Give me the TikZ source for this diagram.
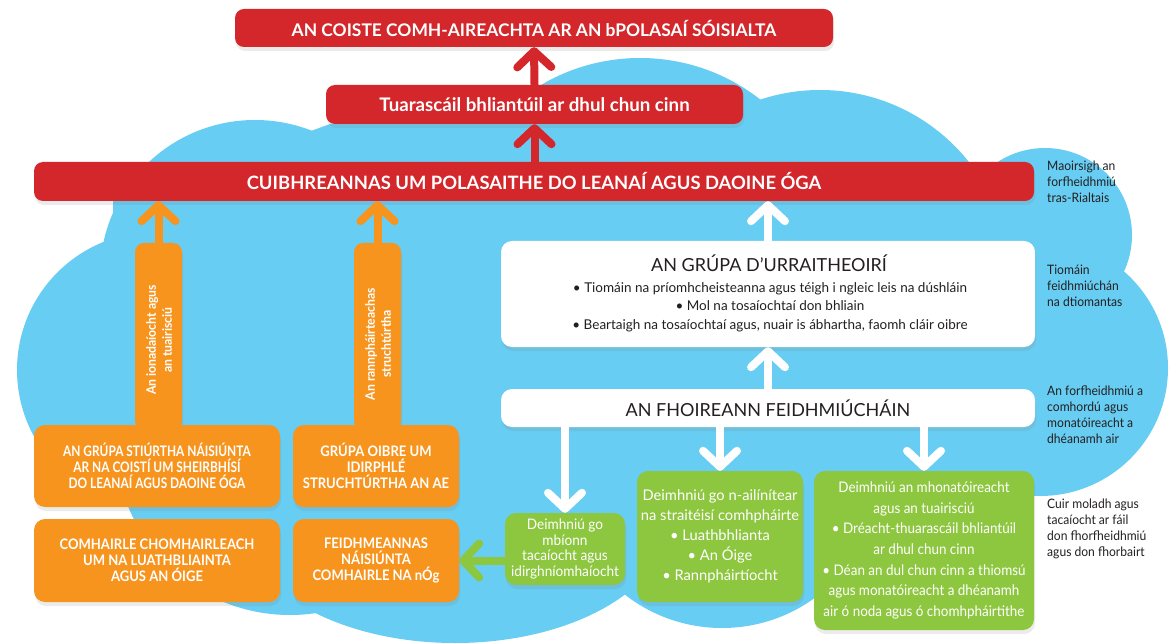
\documentclass[tikz,border=0pt]{standalone}
\usepackage{fontspec}
\setmainfont{Lato}
\newfontfamily\latoA{Lato}[FakeStretch=0.93]
\newfontfamily\latoD{Lato}[FakeStretch=0.94]
\newfontfamily\latoG{Lato}[FakeStretch=0.92]
\newfontfamily\latoO{Lato}[FakeStretch=0.82]
\newfontfamily\latoP{Lato}[FakeStretch=0.9]
\usetikzlibrary{arrows.meta,shadows}
\definecolor{cRed}{HTML}{D3272B}
\definecolor{cBlue}{HTML}{67CDF2}
\definecolor{cOrange}{HTML}{F7941E}
\definecolor{cGreen}{HTML}{8DC63F}
\definecolor{cText}{HTML}{231F20}
\tikzset{
  softshadow/.style={drop shadow={opacity=0.16, shadow xshift=1pt, shadow yshift=-4pt}},
  redbox/.style={fill=cRed, rounded corners=9pt, text=white, inner sep=0pt, softshadow},
  whitebox/.style={fill=white, rounded corners=11pt, inner sep=0pt, softshadow},
  orangebox/.style={fill=cOrange, rounded corners=11pt, inner sep=0pt, text=white, softshadow,
    align=center, font=\latoP\bfseries\fontsize{14.5}{16}\selectfont},
  tabbox/.style={fill=cOrange, rounded corners=9pt, inner sep=0pt, softshadow},
  tabtext/.style={text=white, inner sep=0pt, align=center, font=\latoD\bfseries\fontsize{13}{16}\selectfont},
  greenbox/.style={fill=cGreen, rounded corners=11pt, inner sep=0pt, text=white, softshadow, align=center},
  sidetext/.style={text=cText, inner sep=0pt, align=left, font=\latoA\fontsize{13}{16}\selectfont},
  darktext/.style={text=cText, inner sep=0pt, align=center},
  barb/.style={line width=8pt, -{Straight Barb[length=16pt, width=34pt, round]}},
  redarrow/.style={barb, draw=cRed},
  orangearrow/.style={barb, draw=cOrange},
  whitearrow/.style={barb, draw=white},
  greenarrow/.style={barb, draw=cGreen},
}
\begin{document}
\begin{tikzpicture}[x=1pt,y=-1pt]
\useasboundingbox (0,0) rectangle (1169,644);
% ---------- cloud ----------
\begin{scope}[cBlue]
\fill (640,253) circle[radius=195pt];
\fill (820,280) circle[radius=190pt];
\fill (1045,235) circle[radius=87pt];
\fill (1040,368) circle[radius=128pt];
\fill (255,275) circle[radius=155pt];
\fill (155,370) circle[radius=138pt];
\fill (290,440) circle[radius=175pt];
\fill (455,518) ellipse[x radius=215pt, y radius=125pt];
\fill (722,470) circle[radius=158pt];
\fill (890,430) circle[radius=150pt];
\fill (300,135) -- (330,124) -- (560,100) -- (760,110) -- (960,165) -- (1035,165)
      -- (1035,470) -- (113,470) -- (113,200) -- (150,162) -- cycle;
\end{scope}
% ---------- boxes ----------
\node[redbox, minimum width=598pt, minimum height=38pt, font=\bfseries\fontsize{17.4}{20}\selectfont] (r1) at (534,28)
  {AN COISTE COMH-AIREACHTA AR AN bPOLASAÍ SÓISIALTA};
\node[redbox, minimum width=417pt, minimum height=39pt, font=\bfseries\fontsize{18.7}{20}\selectfont] (r2) at (534.5,104.5)
  {Tuarascáil bhliantúil ar dhul chun cinn};
\node[redbox, minimum width=1000pt, minimum height=39pt, font=\bfseries\fontsize{18.4}{20}\selectfont] (r3) at (534,181.5)
  {CUIBHREANNAS UM POLASAITHE DO LEANAÍ AGUS DAOINE ÓGA};

\node[tabbox, minimum width=47pt, minimum height=187pt] (t1) at (158.5,336.5) {};
\node[tabbox, minimum width=47pt, minimum height=187pt] (t2) at (377.5,336.5) {};
\node[tabtext, rotate=90] (t1txt) at (159,340) {An ionadaíocht agus\\an tuairisciú};
\node[tabtext, rotate=90] (t2txt) at (378,344) {An rannpháirteachas\\struchtúrtha};

\node[orangebox, minimum width=246pt, minimum height=82pt, font=\latoO\bfseries\fontsize{14.5}{16}\selectfont] (o1) at (157,466)
  {AN GRÚPA STIÚRTHA NÁISIÚNTA\\AR NA COISTÍ UM SHEIRBHÍSÍ\\DO LEANAÍ AGUS DAOINE ÓGA};
\node[orangebox, minimum width=166pt, minimum height=82pt] (o2) at (376,466)
  {GRÚPA OIBRE UM\\IDIRPHLÉ\\STRUCHTÚRTHA AN AE};
\node[orangebox, minimum width=246pt, minimum height=83pt] (o3) at (157,560.5)
  {COMHAIRLE CHOMHAIRLEACH\\UM NA LUATHBLIAINTA\\AGUS AN ÓIGE};
\node[orangebox, minimum width=166pt, minimum height=83pt] (o4) at (376,560.5)
  {FEIDHMEANNAS\\NÁISIÚNTA\\COMHAIRLE NA nÓg};

\node[whitebox, minimum width=534pt, minimum height=106pt] (w1) at (768,294) {};
\node[darktext, font=\fontsize{18}{20}\selectfont] (w1title) at (769,263) {AN GRÚPA D’URRAITHEOIRÍ};
\node[darktext, font=\fontsize{13.5}{18.5}\selectfont] (w1list) at (770,307)
  {• Tiomáin na príomhcheisteanna agus téigh i ngleic leis na dúshláin\\
   • Mol na tosaíochtaí don bhliain\\
   • Beartaigh na tosaíochtaí agus, nuair is ábhartha, faomh cláir oibre};
\node[whitebox, minimum width=534pt, minimum height=38pt, font=\fontsize{18}{20}\selectfont, text=cText] (w2) at (768,408)
  {AN FHOIREANN FEIDHMIÚCHÁIN};

\node[greenbox, minimum width=120pt, minimum height=72pt, font=\latoD\fontsize{14.5}{15.5}\selectfont] (g1) at (565,549)
  {Deimhniú go\\mbíonn\\tacaíocht agus\\idirghníomhaíocht};
\node[greenbox, minimum width=166pt, minimum height=131pt, font=\fontsize{14.7}{20}\selectfont] (g2) at (720,536.5)
  {Deimhniú go n-ailínítear\\na straitéisí comhpháirte\\• Luathbhlianta\\• An Óige\\• Rannpháirtíocht};
\node[greenbox, minimum width=220pt, minimum height=159pt, font=\latoG\fontsize{14.6}{20.7}\selectfont] (g3) at (924,550.5)
  {Deimhniú an mhonatóireacht\\agus an tuairisciú\\• Dréacht-thuarascáil bhliantúil\\ar dhul chun cinn\\• Déan an dul chun cinn a thiomsú\\agus monatóireacht a dhéanamh\\air ó noda agus ó chomhpháirtithe};

% ---------- side texts ----------
\node[sidetext, anchor=west] (s1) at (1047,182) {Maoirsigh an\\forfheidhmiú\\tras-Rialtais};
\node[sidetext, anchor=west] (s2) at (1047,286) {Tiomáin\\feidhmiúchán\\na dtiomantas};
\node[sidetext, anchor=west] (s3) at (1047,415) {An forfheidhmiú a\\comhordú agus\\monatóireacht a\\dhéanamh air};
\node[sidetext, anchor=west] (s4) at (1047,529) {Cuir moladh agus\\tacaíocht ar fáil\\don fhorfheidhmiú\\agus don fhorbairt};

% ---------- connectors ----------
\draw[redarrow] (r2.north) -- (r1.south);
\draw[redarrow] (r3.north -| r2.south) -- (r2.south);
\draw[orangearrow] (t1.north) -- (t1.north |- r3.south);
\draw[orangearrow] (t2.north) -- (t2.north |- r3.south);
\draw[whitearrow] (w1.north) -- (w1.north |- r3.south);
\draw[whitearrow] (w2.north) -- (w1.south);
\draw[whitearrow] (g1.north |- w2.south) -- (g1.north);
\draw[whitearrow] (g2.north |- w2.south) -- (g2.north);
\draw[whitearrow] (g3.north |- w2.south) -- (g3.north);
\draw[greenarrow] (g1.west |- o4.east) -- (o4.east);
\end{tikzpicture}
\end{document}
